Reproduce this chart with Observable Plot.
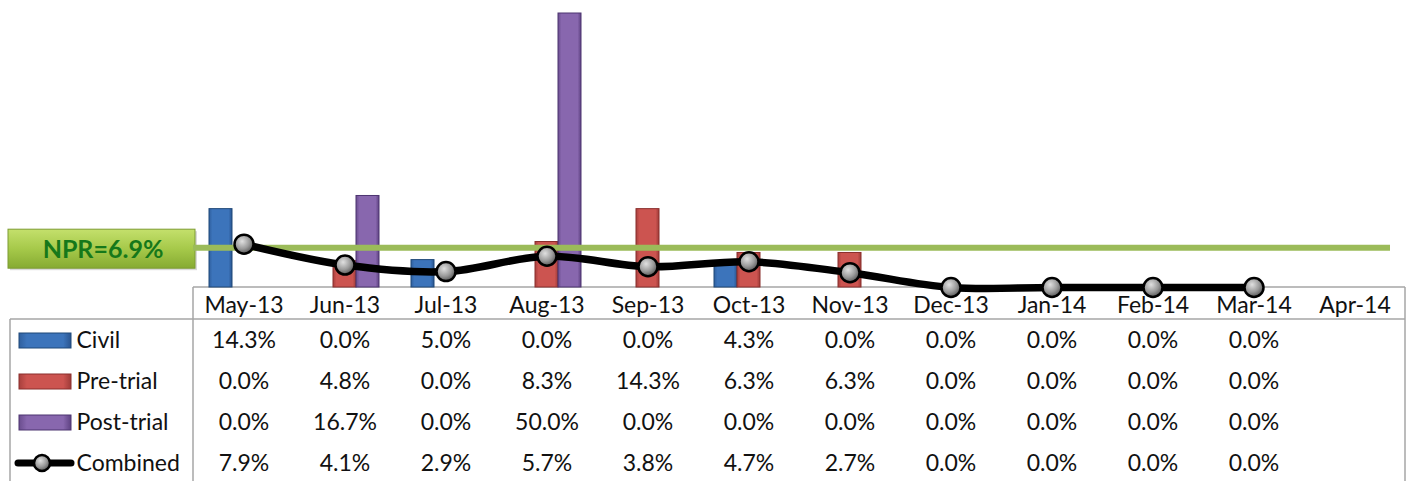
<!DOCTYPE html>
<html><head><meta charset="utf-8">
<script src="https://cdn.jsdelivr.net/npm/d3@7"></script>
<script src="https://cdn.jsdelivr.net/npm/@observablehq/plot@0.6"></script>
<style>
html,body{margin:0;padding:0;background:#fff;}
#chart svg{display:block;overflow:visible;background:#fff}
</style></head><body><div id="chart"></div>
<script>
// ---- data ----
const months = ["May-13","Jun-13","Jul-13","Aug-13","Sep-13","Oct-13","Nov-13","Dec-13","Jan-14","Feb-14","Mar-14","Apr-14"];
const civil     = [14.3, 0.0, 5.0, 0.0, 0.0, 4.3, 0.0, 0.0, 0.0, 0.0, 0.0, null];
const preTrial  = [0.0, 4.8, 0.0, 8.3, 14.3, 6.3, 6.3, 0.0, 0.0, 0.0, 0.0, null];
const postTrial = [0.0, 16.7, 0.0, 50.0, 0.0, 0.0, 0.0, 0.0, 0.0, 0.0, 0.0, null];
const combined  = [7.9, 4.1, 2.9, 5.7, 3.8, 4.7, 2.7, 0.0, 0.0, 0.0, 0.0, null];
const seriesNames = ["Civil", "Pre-trial", "Post-trial", "Combined"];
const npr = 6.9;
const nprLabel = "NPR=6.9%";

// ---- table built from the arrays ----
const rows = months.map((m, i) => ({month: m, civil: civil[i], preTrial: preTrial[i], postTrial: postTrial[i], combined: combined[i]}));
const fmt = v => v == null ? "" : v.toFixed(1) + "%";
const seriesKeys = ["civil", "preTrial", "postTrial", "combined"];
const rowDy = [53, 94, 135, 176];
const textShift = 7;
const FONT = "Lato, 'Open Sans', sans-serif";
const FS = 23;

function deco(index, scales, values, dims) {
  const {width, height, marginLeft, marginRight, marginBottom} = dims;
  const base = height - marginBottom;
  const right = width - marginRight;
  const g = d3.create("svg:g");
  const defs = g.append("defs");
  const grad = (id, stops, vertical) => {
    const lg = defs.append("linearGradient").attr("id", id)
      .attr("x1", 0).attr("y1", 0).attr("x2", vertical ? 0 : 1).attr("y2", vertical ? 1 : 0);
    stops.forEach(([o, c]) => lg.append("stop").attr("offset", o).attr("stop-color", c));
  };
  grad("gBlue", [[0, "#2f5f9e"], [0.15, "#3c74bb"], [0.85, "#3c74bb"], [1, "#2a5590"]]);
  grad("gRed", [[0, "#a8403d"], [0.15, "#cc5450"], [0.85, "#cc5450"], [1, "#9e3b38"]]);
  grad("gPurple", [[0, "#6a4d8e"], [0.15, "#8867ae"], [0.85, "#8867ae"], [1, "#5e4282"]]);
  grad("gGreen", [[0, "#c4e06c"], [0.5, "#a6c94a"], [1, "#86ab32"]], true);
  const rg = defs.append("radialGradient").attr("id", "gDot").attr("cx", "40%").attr("cy", "35%").attr("r", "65%");
  [[0, "#e0e0e0"], [0.6, "#9a9a9a"], [1, "#5a5a5a"]].forEach(([o, c]) => rg.append("stop").attr("offset", o).attr("stop-color", c));

  // table borders
  const line = (x1, y1, x2, y2) => g.append("line").attr("x1", x1).attr("y1", y1).attr("x2", x2).attr("y2", y2)
    .attr("stroke", "#a6a6a6").attr("stroke-width", 1.5);
  line(marginLeft, base, right, base);
  line(marginLeft, base, marginLeft, height);
  line(10, base + 32, right, base + 32);
  line(10, base + 32, 10, height);
  line(right, base, right, height);

  // legend keys
  const keyFills = ["url(#gBlue)", "url(#gRed)", "url(#gPurple)"];
  const keyStrokes = ["#1f4878", "#8a2f2c", "#4d3470"];
  keyFills.forEach((f, i) => {
    g.append("rect").attr("x", 19).attr("y", base + rowDy[i] - 7).attr("width", 52).attr("height", 15)
      .attr("fill", f).attr("stroke", keyStrokes[i]).attr("stroke-width", 1);
  });
  const cy = base + rowDy[3];
  g.append("line").attr("x1", 18).attr("x2", 71).attr("y1", cy).attr("y2", cy)
    .attr("stroke", "#000").attr("stroke-width", 7).attr("stroke-linecap", "round");
  g.append("circle").attr("cx", 42).attr("cy", cy).attr("r", 8).attr("fill", "url(#gDot)").attr("stroke", "#000").attr("stroke-width", 2.5);

  // NPR box
  const ny = typeof scales.y === "function" ? scales.y(npr) : 249;
  g.append("rect").attr("x", 10).attr("y", ny - 18).attr("width", 187).attr("height", 39)
    .attr("fill", "#000").attr("opacity", 0.15);
  g.append("rect").attr("x", 8).attr("y", ny - 20).attr("width", 187).attr("height", 39)
    .attr("fill", "url(#gGreen)").attr("stroke", "#7d9c32").attr("stroke-width", 1);
  g.append("text").attr("x", 103).attr("y", ny).attr("dy", "0.35em").attr("text-anchor", "middle")
    .attr("font-family", FONT).attr("font-weight", "bold").attr("font-size", 25).attr("fill", "#16781a")
    .text(nprLabel);
  return g.node();
}

const barOpts = {x: "month", insetLeft: 39, insetRight: 39, strokeWidth: 1};

const plot = Plot.plot({
  width: 1411,
  height: 481,
  marginLeft: 193,
  marginRight: 6,
  marginTop: 13,
  marginBottom: 194,
  style: {fontFamily: FONT, fontSize: FS + "px", color: "#111", background: "#fff"},
  x: {type: "band", domain: months, padding: 0, tickSize: 0, tickPadding: 9, label: null},
  y: {domain: [0, 50], axis: null},
  marks: [
    deco,
    Plot.barY(rows.filter(d => d.civil > 0), {...barOpts, y: "civil", dx: -23, fill: "url(#gBlue)", stroke: "#1f4878"}),
    Plot.barY(rows.filter(d => d.preTrial > 0), {...barOpts, y: "preTrial", dx: 0, fill: "url(#gRed)", stroke: "#8a2f2c"}),
    Plot.barY(rows.filter(d => d.postTrial > 0), {...barOpts, y: "postTrial", dx: 23, fill: "url(#gPurple)", stroke: "#4d3470"}),
    Plot.ruleY([npr], {insetRight: 15, dy: -2, stroke: "#9bbb59", strokeWidth: 6}),
    Plot.line(rows.filter(d => d.combined != null), {x: "month", y: "combined", curve: "catmull-rom", stroke: "#000", strokeWidth: 7.5}),
    Plot.dot(rows.filter(d => d.combined != null), {x: "month", y: "combined", r: 9.5, fill: "url(#gDot)", stroke: "#000", strokeWidth: 2.5}),
    ...seriesKeys.map((k, i) => Plot.text(rows, {x: "month", text: d => fmt(d[k]), frameAnchor: "bottom", dy: rowDy[i] + textShift, fontSize: FS, fill: "#111"})),
    ...seriesNames.map((s, i) => Plot.text([s], {text: d => d, frameAnchor: "bottom-left", dx: -117, dy: rowDy[i] + textShift, textAnchor: "start", fontSize: FS, fill: "#111"}))
  ]
});
document.getElementById("chart").appendChild(plot);
</script>
</body></html>
